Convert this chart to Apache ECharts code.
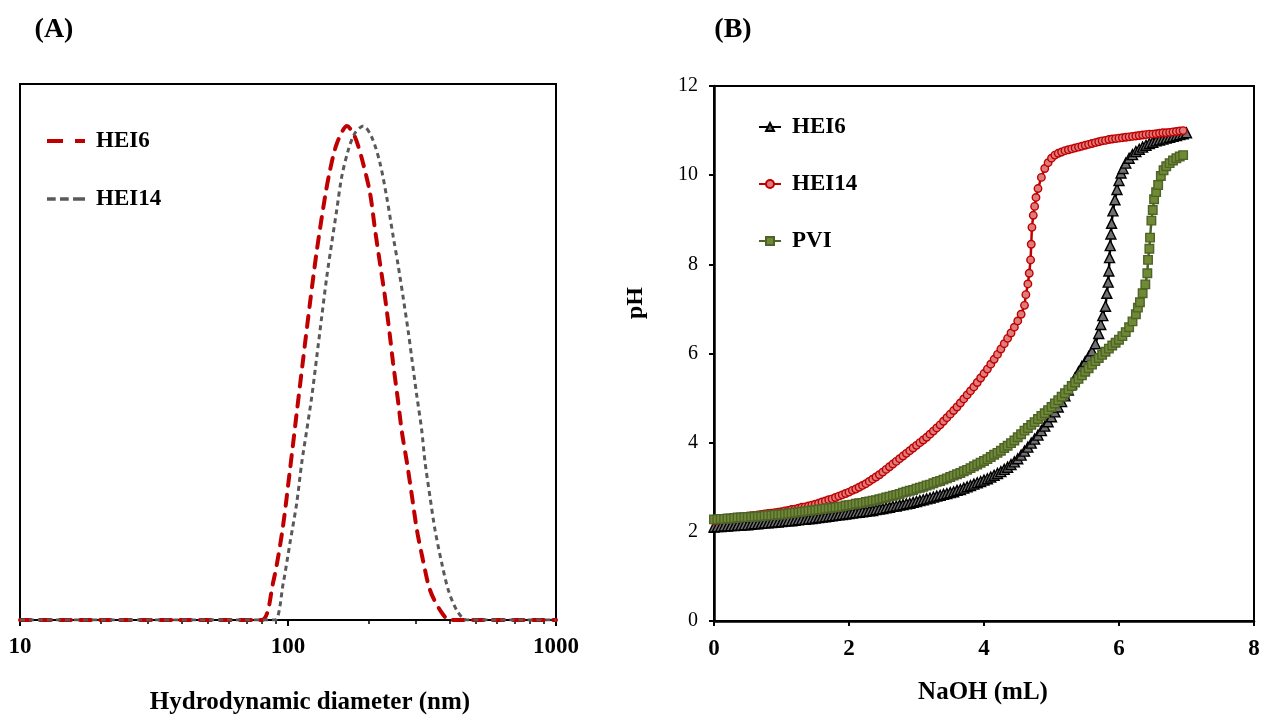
<!DOCTYPE html>
<html>
<head>
<meta charset="utf-8">
<script src="https://cdn.jsdelivr.net/npm/echarts@6/dist/echarts.min.js"></script>
<style>
  body { margin: 0; background: #fff; }
  .chart { position: absolute; left: 0; top: 0; width: 1264px; height: 720px; }
</style>
</head>
<body>
<div id="chartA" class="chart"></div>
<div id="chartB" class="chart"></div>
<script>
// (A) size distribution
var sizeHEI6 = [10, 20, 40, 60, 79.8, 87.9, 95.0, 101.7, 108.1, 113.8, 120.8, 128.2, 137.4, 143.5, 152.4, 166.0, 177.8, 190.5, 202.3, 211.3, 220.3, 230.1, 240.3, 246.6, 257.2, 266.2, 278.0, 290.4, 302.7, 318.8, 338.7, 369.2, 402, 500, 700, 1000];
var intHEI6 = [0, 0, 0, 0, 0, 1.38, 3.25, 5.6, 7.84, 9.7, 11.83, 13.81, 15.78, 16.79, 17.8, 18.43, 18.02, 17.05, 15.93, 14.55, 13.32, 12.05, 10.56, 9.6, 8.2, 7.0, 5.86, 4.59, 3.36, 2.24, 1.12, 0.37, 0, 0, 0, 0];
var sizeHEI14 = [10, 20, 40, 60, 80, 89.4, 96.0, 101.7, 107.8, 112.5, 117.5, 122.6, 128.0, 133.6, 139.5, 145.6, 152.0, 158.6, 167.9, 177.8, 191.0, 205.3, 220.4, 233.5, 247.1, 258.0, 269.3, 281.1, 289.4, 302.1, 315.4, 324.5, 338.8, 353.7, 374.6, 396.4, 426.1, 464.4, 600, 800, 1000];
var intHEI14 = [0, 0, 0, 0, 0, 0, 1.38, 2.87, 4.37, 5.86, 7.09, 8.32, 9.81, 11.31, 12.8, 14.07, 15.3, 16.53, 17.54, 18.17, 18.43, 18.02, 17.05, 15.78, 14.29, 13.2, 12.0, 10.75, 9.8, 8.4, 7.09, 5.9, 4.59, 3.36, 2.13, 1.12, 0.37, 0, 0, 0, 0];
var sizeLabels = [10, 100, 1000];
var sizeMinorTicks = [20, 30, 40, 50, 60, 70, 80, 90, 200, 300, 400, 500, 600, 700, 800, 900];

// (B) titration curves, [NaOH mL, pH]
var hei6 = [[0,2.11],[0.05,2.12],[0.1,2.12],[0.15,2.13],[0.2,2.13],[0.25,2.14],[0.3,2.14],[0.35,2.15],[0.4,2.15],[0.45,2.16],[0.5,2.16],[0.55,2.17],[0.6,2.18],[0.65,2.18],[0.7,2.19],[0.75,2.2],[0.8,2.2],[0.85,2.21],[0.9,2.22],[0.95,2.22],[1,2.23],[1.05,2.24],[1.1,2.25],[1.15,2.25],[1.2,2.26],[1.25,2.27],[1.3,2.28],[1.35,2.28],[1.4,2.29],[1.45,2.3],[1.5,2.31],[1.55,2.32],[1.6,2.33],[1.65,2.34],[1.7,2.35],[1.75,2.36],[1.8,2.37],[1.85,2.38],[1.9,2.39],[1.95,2.4],[2,2.41],[2.05,2.42],[2.1,2.43],[2.15,2.44],[2.2,2.45],[2.25,2.46],[2.3,2.47],[2.35,2.48],[2.4,2.5],[2.45,2.51],[2.5,2.52],[2.55,2.54],[2.6,2.55],[2.65,2.57],[2.7,2.58],[2.75,2.6],[2.8,2.61],[2.85,2.63],[2.9,2.64],[2.95,2.66],[3,2.68],[3.05,2.7],[3.1,2.72],[3.15,2.74],[3.2,2.76],[3.25,2.78],[3.3,2.8],[3.35,2.82],[3.4,2.84],[3.45,2.86],[3.5,2.88],[3.55,2.9],[3.6,2.93],[3.65,2.95],[3.7,2.98],[3.75,3.01],[3.8,3.04],[3.85,3.07],[3.9,3.1],[3.95,3.13],[4,3.16],[4.05,3.19],[4.1,3.23],[4.15,3.27],[4.2,3.31],[4.25,3.35],[4.3,3.4],[4.35,3.45],[4.4,3.51],[4.45,3.57],[4.5,3.64],[4.55,3.72],[4.6,3.81],[4.65,3.9],[4.7,3.99],[4.75,4.08],[4.8,4.17],[4.85,4.27],[4.9,4.37],[4.95,4.47],[5,4.58],[5.05,4.69],[5.1,4.8],[5.15,4.92],[5.2,5.05],[5.25,5.18],[5.3,5.32],[5.35,5.46],[5.4,5.59],[5.45,5.71],[5.5,5.82],[5.55,5.93],[5.6,6.06],[5.65,6.22],[5.7,6.45],[5.73,6.65],[5.76,6.85],[5.8,7.06],[5.82,7.35],[5.84,7.6],[5.85,7.85],[5.86,8.15],[5.87,8.42],[5.88,8.68],[5.89,8.92],[5.91,9.2],[5.94,9.45],[5.97,9.68],[6,9.88],[6.03,10.05],[6.06,10.15],[6.1,10.27],[6.15,10.38],[6.2,10.46],[6.25,10.53],[6.3,10.58],[6.35,10.63],[6.4,10.67],[6.45,10.71],[6.5,10.74],[6.55,10.77],[6.6,10.79],[6.65,10.81],[6.7,10.83],[6.75,10.85],[6.8,10.87],[6.85,10.89],[6.9,10.91],[6.95,10.93],[7,10.95]];
var hei14 = [[0,2.25],[0.05,2.26],[0.1,2.27],[0.15,2.28],[0.2,2.29],[0.25,2.3],[0.3,2.31],[0.35,2.32],[0.4,2.33],[0.45,2.34],[0.5,2.35],[0.55,2.36],[0.6,2.37],[0.65,2.38],[0.7,2.39],[0.75,2.4],[0.8,2.41],[0.85,2.42],[0.9,2.43],[0.95,2.44],[1,2.45],[1.05,2.47],[1.1,2.48],[1.15,2.5],[1.2,2.51],[1.25,2.53],[1.3,2.55],[1.35,2.56],[1.4,2.58],[1.45,2.6],[1.5,2.62],[1.55,2.64],[1.6,2.67],[1.65,2.69],[1.7,2.72],[1.75,2.74],[1.8,2.77],[1.85,2.8],[1.9,2.83],[1.95,2.86],[2,2.89],[2.05,2.93],[2.1,2.96],[2.15,3],[2.2,3.04],[2.25,3.08],[2.3,3.13],[2.35,3.18],[2.4,3.23],[2.45,3.28],[2.5,3.34],[2.55,3.4],[2.6,3.46],[2.65,3.52],[2.7,3.58],[2.75,3.64],[2.8,3.7],[2.85,3.76],[2.9,3.82],[2.95,3.88],[3,3.94],[3.05,4],[3.1,4.06],[3.15,4.12],[3.2,4.19],[3.25,4.26],[3.3,4.33],[3.35,4.4],[3.4,4.48],[3.45,4.56],[3.5,4.64],[3.55,4.72],[3.6,4.8],[3.65,4.89],[3.7,4.98],[3.75,5.07],[3.8,5.16],[3.85,5.25],[3.9,5.35],[3.95,5.45],[4,5.55],[4.05,5.65],[4.1,5.76],[4.15,5.87],[4.2,5.98],[4.25,6.1],[4.3,6.22],[4.35,6.34],[4.4,6.46],[4.45,6.59],[4.5,6.73],[4.55,6.88],[4.6,7.08],[4.62,7.32],[4.65,7.56],[4.67,7.8],[4.69,8.1],[4.7,8.45],[4.71,8.83],[4.73,9.1],[4.75,9.3],[4.77,9.5],[4.8,9.7],[4.85,9.95],[4.9,10.15],[4.95,10.28],[5,10.38],[5.05,10.45],[5.1,10.49],[5.15,10.52],[5.2,10.55],[5.25,10.57],[5.3,10.59],[5.35,10.61],[5.4,10.63],[5.45,10.65],[5.5,10.67],[5.55,10.69],[5.6,10.71],[5.65,10.73],[5.7,10.75],[5.75,10.77],[5.8,10.78],[5.85,10.8],[5.9,10.81],[5.95,10.82],[6,10.83],[6.05,10.84],[6.1,10.85],[6.15,10.86],[6.2,10.87],[6.25,10.88],[6.3,10.89],[6.35,10.9],[6.4,10.91],[6.45,10.92],[6.5,10.92],[6.55,10.93],[6.6,10.94],[6.65,10.95],[6.7,10.95],[6.75,10.96],[6.8,10.97],[6.85,10.98],[6.9,10.99],[6.95,11]];
var pvi = [[0,2.28],[0.05,2.28],[0.1,2.29],[0.15,2.29],[0.2,2.3],[0.25,2.3],[0.3,2.31],[0.35,2.32],[0.4,2.32],[0.45,2.33],[0.5,2.33],[0.55,2.34],[0.6,2.34],[0.65,2.35],[0.7,2.35],[0.75,2.36],[0.8,2.37],[0.85,2.37],[0.9,2.38],[0.95,2.39],[1,2.39],[1.05,2.4],[1.1,2.41],[1.15,2.42],[1.2,2.43],[1.25,2.44],[1.3,2.45],[1.35,2.46],[1.4,2.47],[1.45,2.48],[1.5,2.49],[1.55,2.5],[1.6,2.51],[1.65,2.52],[1.7,2.53],[1.75,2.54],[1.8,2.55],[1.85,2.56],[1.9,2.57],[1.95,2.59],[2,2.6],[2.05,2.61],[2.1,2.63],[2.15,2.64],[2.2,2.65],[2.25,2.67],[2.3,2.68],[2.35,2.7],[2.4,2.71],[2.45,2.73],[2.5,2.75],[2.55,2.77],[2.6,2.79],[2.65,2.81],[2.7,2.83],[2.75,2.85],[2.8,2.88],[2.85,2.9],[2.9,2.92],[2.95,2.94],[3,2.97],[3.05,2.99],[3.1,3.01],[3.15,3.04],[3.2,3.06],[3.25,3.09],[3.3,3.12],[3.35,3.14],[3.4,3.17],[3.45,3.2],[3.5,3.23],[3.55,3.26],[3.6,3.29],[3.65,3.32],[3.7,3.36],[3.75,3.39],[3.8,3.43],[3.85,3.47],[3.9,3.51],[3.95,3.55],[4,3.59],[4.05,3.63],[4.1,3.68],[4.15,3.73],[4.2,3.77],[4.25,3.82],[4.3,3.88],[4.35,3.93],[4.4,3.99],[4.45,4.05],[4.5,4.12],[4.55,4.19],[4.6,4.27],[4.65,4.33],[4.7,4.4],[4.75,4.46],[4.8,4.53],[4.85,4.6],[4.9,4.66],[4.95,4.73],[5,4.8],[5.05,4.88],[5.1,4.95],[5.15,5.03],[5.2,5.11],[5.25,5.19],[5.3,5.27],[5.35,5.35],[5.4,5.43],[5.45,5.51],[5.5,5.59],[5.55,5.67],[5.6,5.75],[5.65,5.83],[5.7,5.9],[5.75,5.97],[5.8,6.04],[5.85,6.11],[5.9,6.18],[5.95,6.24],[6,6.31],[6.05,6.39],[6.1,6.48],[6.15,6.59],[6.2,6.72],[6.25,6.88],[6.28,7.03],[6.31,7.15],[6.35,7.35],[6.39,7.55],[6.42,7.8],[6.43,8.1],[6.45,8.35],[6.46,8.6],[6.48,8.98],[6.5,9.22],[6.52,9.46],[6.55,9.62],[6.58,9.78],[6.62,9.98],[6.66,10.11],[6.7,10.2],[6.75,10.27],[6.8,10.33],[6.85,10.38],[6.9,10.42],[6.95,10.45]];

var serif = '"Liberation Serif", "Times New Roman", serif';

function zip(xs, ys) {
  return xs.map(function (x, i) { return [x, ys[i]]; });
}

// ---- chart A ----
var chartA = echarts.init(document.getElementById('chartA'));
chartA.setOption({
  animation: false,
  grid: { left: 20, top: 84, width: 536, height: 536, show: true, borderColor: '#000', borderWidth: 2, containLabel: false },
  legend: {
    orient: 'vertical', left: 47, top: 129, padding: 0, itemWidth: 38, itemHeight: 4, itemGap: 34,
    data: [
      { name: 'HEI6', icon: 'path://M0,0H16V4H0Z M28,0H38V4H28Z' },
      { name: 'HEI14', icon: 'path://M0,0H8V3H0Z M12,0H20V3H12Z M24,0H35V3H24Z' }
    ],
    textStyle: { fontFamily: serif, fontWeight: 'bold', fontSize: 23, color: '#000', lineHeight: 24, padding: [0, 0, 0, 6] }
  },
  xAxis: [{
    type: 'log', logBase: 10, min: 10, max: 1000,
    axisLine: { lineStyle: { color: '#000', width: 2 } },
    axisTick: { length: 6, lineStyle: { color: '#000', width: 2 }, customValues: sizeLabels },
    axisLabel: {
      customValues: sizeLabels, fontFamily: serif, fontWeight: 'bold', fontSize: 23, color: '#000', margin: 16,
      formatter: function (v) { return String(v); }
    },
    splitLine: { show: false }
  }, {
    type: 'log', logBase: 10, min: 10, max: 1000, position: 'bottom',
    axisLine: { show: false },
    axisTick: { length: 4, lineStyle: { color: '#000', width: 1.5 }, customValues: sizeMinorTicks },
    axisLabel: { show: false },
    splitLine: { show: false }
  }],
  yAxis: {
    type: 'value', min: 0, max: 20,
    axisLine: { show: true, lineStyle: { color: '#000', width: 2 } },
    axisTick: { show: false }, axisLabel: { show: false }, splitLine: { show: false }
  },
  graphic: [
    { type: 'text', x: 54, y: 30, style: { text: '(A)', font: 'bold 28px ' + serif, fill: '#000', textAlign: 'center', textVerticalAlign: 'middle' } },
    { type: 'text', x: 310, y: 703, style: { text: 'Hydrodynamic diameter (nm)', font: 'bold 25px ' + serif, fill: '#000', textAlign: 'center', textVerticalAlign: 'middle' } }
  ],
  series: [{
    name: 'HEI6', type: 'line', showSymbol: false, symbol: 'none', smooth: 0.3,
    data: zip(sizeHEI6, intHEI6),
    lineStyle: { color: '#C00000', width: 4, type: [11, 9], cap: 'round' },
    itemStyle: { color: '#C00000' }
  }, {
    name: 'HEI14', type: 'line', showSymbol: false, symbol: 'none', smooth: 0.3,
    data: zip(sizeHEI14, intHEI14),
    lineStyle: { color: '#595959', width: 3, type: [5, 4] },
    itemStyle: { color: '#595959' }
  }]
});

// ---- chart B ----
var chartB = echarts.init(document.getElementById('chartB'));
chartB.setOption({
  animation: false,
  grid: { left: 714, top: 86, width: 540, height: 535, show: true, borderColor: '#000', borderWidth: 2, containLabel: false },
  legend: {
    orient: 'vertical', left: 758, top: 115, padding: 0, itemWidth: 22, itemHeight: 10, itemGap: 33,
    data: ['HEI6', 'HEI14', 'PVI'],
    textStyle: { fontFamily: serif, fontWeight: 'bold', fontSize: 23, color: '#000', lineHeight: 24, padding: [0, 0, 0, 6] }
  },
  xAxis: {
    type: 'value', min: 0, max: 8, interval: 2,
    axisLine: { lineStyle: { color: '#000', width: 2.5 } },
    axisTick: { length: 5, lineStyle: { color: '#000', width: 2 } },
    axisLabel: { fontFamily: serif, fontWeight: 'bold', fontSize: 23, color: '#000', margin: 17 },
    splitLine: { show: false }
  },
  yAxis: {
    type: 'value', min: 0, max: 12, interval: 2,
    axisLine: { show: true, lineStyle: { color: '#000', width: 2.5 } },
    axisTick: { show: true, length: 5, lineStyle: { color: '#000', width: 2 } },
    axisLabel: { fontFamily: serif, fontSize: 20, color: '#000', margin: 16 },
    splitLine: { show: false }
  },
  graphic: [
    { type: 'text', x: 733, y: 30, style: { text: '(B)', font: 'bold 28px ' + serif, fill: '#000', textAlign: 'center', textVerticalAlign: 'middle' } },
    { type: 'text', x: 983, y: 693, style: { text: 'NaOH (mL)', font: 'bold 25px ' + serif, fill: '#000', textAlign: 'center', textVerticalAlign: 'middle' } },
    { type: 'text', x: 636, y: 303, rotation: Math.PI / 2, style: { text: 'pH', font: 'bold 24px ' + serif, fill: '#000', textAlign: 'center', textVerticalAlign: 'middle' } }
  ],
  series: [{
    name: 'HEI6', type: 'line', data: hei6,
    symbol: 'triangle', symbolSize: 10,
    lineStyle: { color: '#000', width: 2.5 },
    itemStyle: { color: '#707070', borderColor: '#000', borderWidth: 1.4 }
  }, {
    name: 'HEI14', type: 'line', data: hei14,
    symbol: 'circle', symbolSize: 7.5,
    lineStyle: { color: '#C00000', width: 2.5 },
    itemStyle: { color: '#DE7C7C', borderColor: '#C00000', borderWidth: 1.4 }
  }, {
    name: 'PVI', type: 'line', data: pvi,
    symbol: 'rect', symbolSize: 8.5,
    lineStyle: { color: '#4F6228', width: 2.5 },
    itemStyle: { color: '#6E8A35', borderColor: '#4F6228', borderWidth: 1.4 }
  }]
});
</script>
</body>
</html>
